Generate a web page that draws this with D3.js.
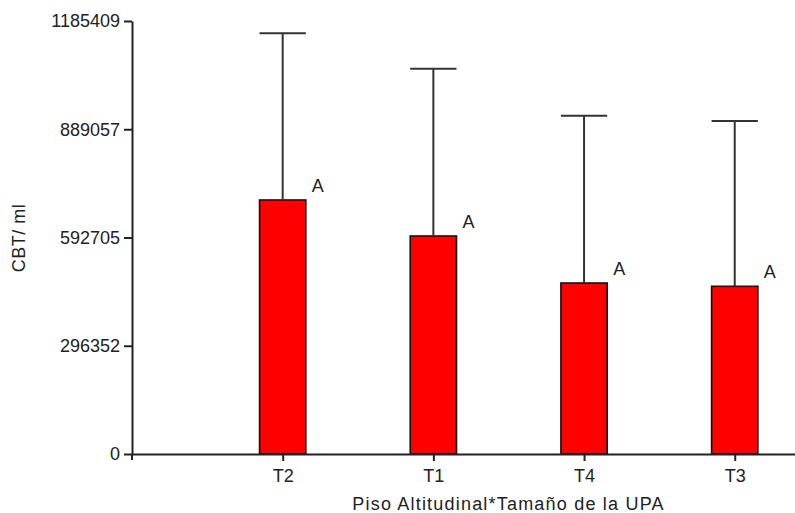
<!DOCTYPE html>
<html>
<head>
<meta charset="utf-8">
<script src="https://cdn.jsdelivr.net/npm/d3@7"></script>
<style>
  body { margin: 0; background: #fff; }
  text { font-family: Arial, "Liberation Sans", sans-serif; fill: #222; }
</style>
</head>
<body>
<svg width="795" height="513"></svg>
<script>
// data
var categories = ['T2', 'T1', 'T4', 'T3'];
var means = [695400, 596800, 468100, 459100];
var errors = [456300, 458000, 458000, 452500];
var letters = ['A', 'A', 'A', 'A'];
var yTicks = [0, 296352, 592705, 889057, 1185409];

var svg = d3.select('svg');

// hand placed plot frame
var x0 = 132, x1 = 795, yTop = 21, yBase = 454;

var x = d3.scaleLinear()
    .domain([0, 4.4])
    .range([x0, x1]);

var y = d3.scaleLinear()
    .domain([0, 1185409])
    .range([yBase, yTop]);

var barW = 0.307; // in category units

// bars
svg.selectAll('.bar')
    .data(means)
    .enter()
    .append('rect')
    .attr('class', 'bar')
    .attr('x', (d, i) => x(i + 1 - barW / 2))
    .attr('width', x(barW) - x(0))
    .attr('y', d => y(d))
    .attr('height', d => y(0) - y(d))
    .style('fill', '#ff0000')
    .style('stroke', '#111')
    .style('stroke-width', 1.6);

// error bars
var err = svg.selectAll('.err')
    .data(means)
    .enter()
    .append('g')
    .attr('class', 'err')
    .style('stroke', '#333')
    .style('stroke-width', 2);

err.append('line')
    .attr('x1', (d, i) => x(i + 1))
    .attr('x2', (d, i) => x(i + 1))
    .attr('y1', d => y(d))
    .attr('y2', (d, i) => y(d + errors[i]));

err.append('line')
    .attr('x1', (d, i) => x(i + 1 - barW / 2))
    .attr('x2', (d, i) => x(i + 1 + barW / 2))
    .attr('y1', (d, i) => y(d + errors[i]))
    .attr('y2', (d, i) => y(d + errors[i]));

// significance letters
svg.selectAll('.letter')
    .data(means)
    .enter()
    .append('text')
    .attr('class', 'letter')
    .attr('x', (d, i) => x(i + 1 + barW / 2) + 6)
    .attr('y', d => y(d) - 8)
    .style('font-size', '18px')
    .text((d, i) => letters[i]);

// y axis
var yAxis = d3.axisLeft(y)
    .tickValues(yTicks)
    .tickFormat(d3.format('d'))
    .tickSize(8)
    .tickSizeOuter(0)
    .tickPadding(4);

var gy = svg.append('g')
    .attr('transform', 'translate(' + x0 + ',0)')
    .call(yAxis);
gy.selectAll('text').style('font-size', '18px');

// x axis
var xAxis = d3.axisBottom(x)
    .tickValues([1, 2, 3, 4])
    .tickFormat(d => categories[d - 1])
    .tickSize(7)
    .tickSizeOuter(0)
    .tickPadding(8);

var gx = svg.append('g')
    .attr('transform', 'translate(0,' + yBase + ')')
    .call(xAxis);
gx.selectAll('text').style('font-size', '18px');

// axis styling
svg.selectAll('.domain, .tick line')
    .style('stroke', '#222')
    .style('stroke-width', 2);

// y axis runs a bit past the baseline
svg.append('line')
    .attr('x1', x0).attr('x2', x0)
    .attr('y1', yBase).attr('y2', yBase + 6)
    .style('stroke', '#222')
    .style('stroke-width', 2);

// axis titles
svg.append('text')
    .attr('x', (x0 + x1) / 2 + 45)
    .attr('y', 510)
    .attr('text-anchor', 'middle')
    .style('font-size', '18px')
    .style('letter-spacing', '1.2px')
    .text('Piso Altitudinal*Tamaño de la UPA');

svg.append('text')
    .attr('transform', 'translate(25,238) rotate(-90)')
    .attr('text-anchor', 'middle')
    .style('font-size', '18px')
    .style('letter-spacing', '0.5px')
    .text('CBT/ ml');
</script>
</body>
</html>
